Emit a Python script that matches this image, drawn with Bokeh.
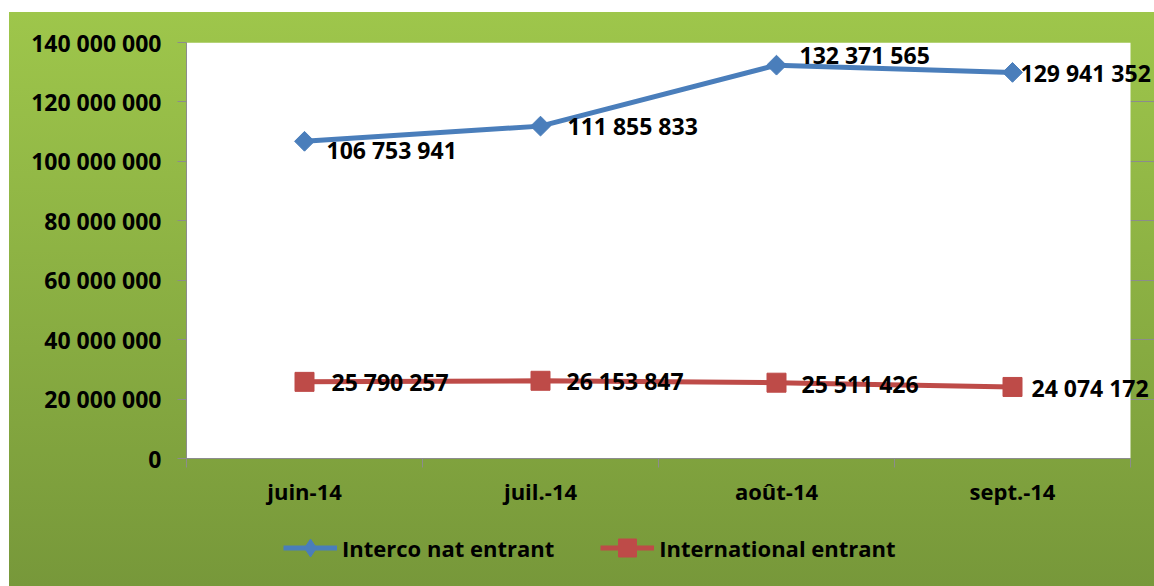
from bokeh.plotting import figure
from bokeh.layouts import column
from bokeh.models import (ColumnDataSource, FixedTicker, LabelSet, Legend, LegendItem,
                          Range1d, BoxAnnotation)
from bokeh.core.properties import value
from bokeh.embed import file_html
from bokeh.resources import INLINE

# ---- data ----
categories = ["juin-14", "juil.-14", "août-14", "sept.-14"]
interco = [106753941, 111855833, 132371565, 129941352]
international = [25790257, 26153847, 25511426, 24074172]
series_names = ["Interco nat entrant", "International entrant"]
y_ticks = [0, 20000000, 40000000, 60000000, 80000000, 100000000, 120000000, 140000000]

# ---- styles ----
FONT = "Open Sans"
BLUE = "#4A7EBB"
RED = "#BE4B48"
GRID = "#8C8C8C"
W, H_MAIN, H_LEG = 1154, 520, 66
PLOT_W = 944          # width of the white plot area in px
EXTRA_R = 24          # room to the right of the plot area for labels


def fmt(v):
    return f"{v:,}".replace(",", " ")


n = len(categories)
xs = [i + 0.5 for i in range(n)]

src_a = ColumnDataSource(dict(x=xs, y=interco, lab=[fmt(v) for v in interco],
                              dx=[22, 27, 23, 8], dy=[-9, 0, 10, -1]))
src_b = ColumnDataSource(dict(x=xs, y=international, lab=[fmt(v) for v in international],
                              dx=[27, 26, 25, 19], dy=[0, 0, -1, -1]))

x_end = n * (PLOT_W + EXTRA_R) / PLOT_W
p = figure(width=W, height=H_MAIN, output_backend="svg", toolbar_location=None,
           x_range=Range1d(0, x_end), y_range=Range1d(y_ticks[0], y_ticks[-1]),
           min_border_left=186, min_border_right=0, min_border_top=42, min_border_bottom=62)
p.border_fill_color = None
p.background_fill_color = None
p.outline_line_color = None
p.add_layout(BoxAnnotation(left=0, right=n, bottom=y_ticks[0], top=y_ticks[-1],
                           fill_color="white", fill_alpha=1, line_color=None, level="underlay"))

# axes
p.xaxis.ticker = FixedTicker(ticks=xs, minor_ticks=list(range(n + 1)))
p.xaxis.major_label_overrides = {x: c for x, c in zip(xs, categories)}
p.xaxis.bounds = (0, n)
p.xaxis.major_tick_line_color = None
p.xaxis.minor_tick_out = 9
p.xaxis.minor_tick_in = 0
p.xaxis.minor_tick_line_color = GRID
p.xaxis.axis_line_color = GRID
p.xaxis.major_label_standoff = 8
p.xaxis.major_label_text_font_size = "22px"
p.yaxis.ticker = FixedTicker(ticks=y_ticks)
p.yaxis.major_label_overrides = {t: fmt(t) for t in y_ticks}
p.yaxis.major_tick_out = 9
p.yaxis.major_tick_in = 0
p.yaxis.minor_tick_line_color = None
p.yaxis.major_tick_line_color = GRID
p.yaxis.axis_line_color = GRID
p.yaxis.major_label_standoff = 16
p.yaxis.major_label_text_font_size = "23px"
for ax in (p.xaxis, p.yaxis):
    ax.major_label_text_font = FONT
    ax.major_label_text_font_style = "bold"
    ax.major_label_text_color = "black"

p.xgrid.grid_line_color = None
p.ygrid.ticker = FixedTicker(ticks=y_ticks)
p.ygrid.bounds = (0, n)
p.ygrid.grid_line_color = GRID
p.ygrid.grid_line_width = 1

# series
p.line("x", "y", source=src_a, line_color=BLUE, line_width=5)
p.scatter("x", "y", source=src_a, marker="square", angle=0.785398, size=14,
          fill_color=BLUE, line_color=BLUE)
p.line("x", "y", source=src_b, line_color=RED, line_width=5)
p.scatter("x", "y", source=src_b, marker="square", size=19,
          fill_color=RED, line_color=RED)

for src in (src_a, src_b):
    p.add_layout(LabelSet(x="x", y="y", text="lab", source=src, x_offset="dx", y_offset="dy",
                          text_font=value(FONT), text_font_style="bold", text_font_size="23px",
                          text_color="black", text_baseline="middle", text_align="left"))

# legend strip (separate figure, holds no data: NaN placeholders only)
nan = float("nan")
lf = figure(width=W, height=H_LEG, output_backend="svg", toolbar_location=None,
            x_range=Range1d(0, 1), y_range=Range1d(0, 1), x_axis_type=None, y_axis_type=None,
            min_border=0)
lf.border_fill_color = None
lf.background_fill_color = None
lf.outline_line_color = None
ka = lf.line(x=[nan], y=[nan], line_color=BLUE, line_width=5)
kam = lf.scatter(x=[nan], y=[nan], marker="diamond", fill_color=BLUE, line_color=BLUE)
kb = lf.line(x=[nan], y=[nan], line_color=RED, line_width=5)
kbm = lf.scatter(x=[nan], y=[nan], marker="square", fill_color=RED, line_color=RED)
legend = Legend(items=[LegendItem(label=series_names[0], renderers=[ka, kam]),
                       LegendItem(label=series_names[1], renderers=[kb, kbm])],
                orientation="horizontal", location=(97, 16),
                glyph_width=54, glyph_height=45, label_standoff=5, spacing=46,
                padding=0, margin=0, border_line_color=None, background_fill_color=None,
                label_text_font=FONT, label_text_font_style="bold", label_text_font_size="22px",
                label_text_color="black")
lf.add_layout(legend, "center")

lay = column(p, lf, spacing=0)
lay.styles = {"background": "linear-gradient(to bottom, #9EC64B, #77983A) 9px 12px / calc(100% - 9px) calc(100% - 12px) no-repeat, #ffffff"}

open("out.html", "w").write(file_html(lay, INLINE))
